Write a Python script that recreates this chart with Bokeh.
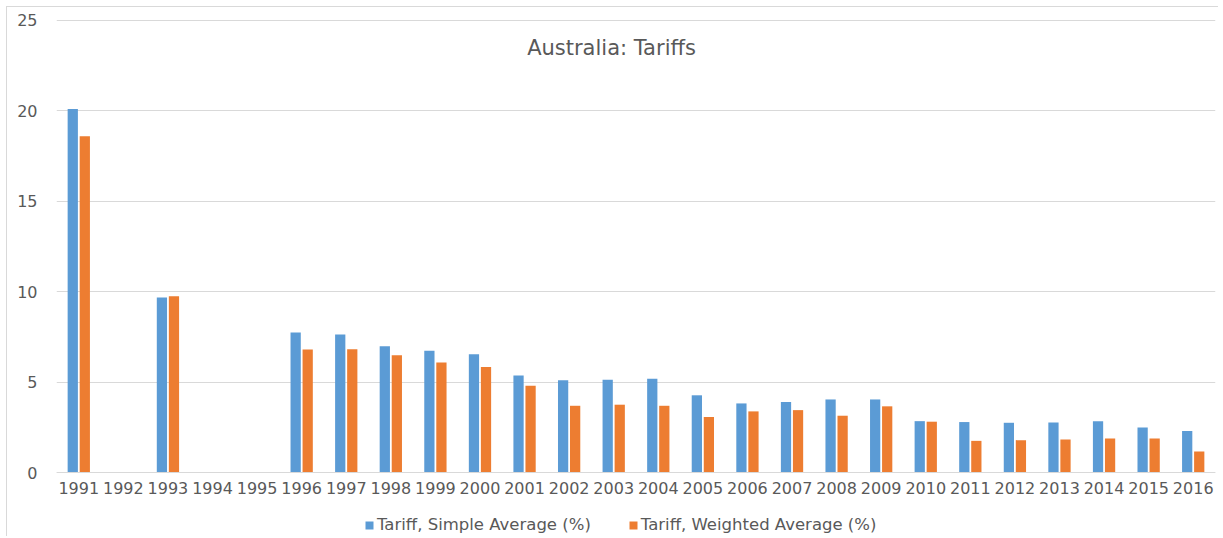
from bokeh.plotting import figure
from bokeh.models import ColumnDataSource, FactorRange, FixedTicker, Legend, LegendItem, Label, Range1d
from bokeh.transform import dodge
from bokeh.embed import file_html
from bokeh.resources import INLINE

NaN = float("nan")

years = [str(y) for y in range(1991, 2017)]
simple_avg = [20.1, NaN, 9.68, NaN, NaN, 7.74, 7.63, 6.98, 6.74, 6.54,
              5.36, 5.10, 5.13, 5.19, 4.27, 3.82, 3.90, 4.04, 4.04, 2.84,
              2.79, 2.75, 2.77, 2.83, 2.49, 2.29]
weighted_avg = [18.6, NaN, 9.75, NaN, NaN, 6.80, 6.81, 6.48, 6.09, 5.83,
                4.80, 3.69, 3.75, 3.69, 3.07, 3.38, 3.45, 3.14, 3.66, 2.81,
                1.75, 1.79, 1.83, 1.88, 1.88, 1.16]
y_ticks = [0, 5, 10, 15, 20, 25]
title_text = "Australia: Tariffs"
series_names = ["Tariff, Simple Average (%)", "Tariff, Weighted Average (%)"]

BLUE = "#5B9BD5"
ORANGE = "#ED7D31"
GREY_TEXT = "#595959"
GRID = "#D9D9D9"
FONT = "DejaVu Sans"

source = ColumnDataSource(data=dict(year=years, simple=simple_avg, weighted=weighted_avg))

p = figure(
    x_range=FactorRange(*years),
    y_range=Range1d(-3.595, 25.11),
    width=1212, height=530,
    output_backend="svg",
    toolbar_location=None,
    min_border_left=49, min_border_right=4, min_border_top=11, min_border_bottom=0,
    margin=(6, 0, 0, 6),
    styles={"border-left": "1px solid #D9D9D9", "border-top": "1px solid #D9D9D9"},
)
p.x_range.range_padding = 0

r1 = p.vbar(x=dodge("year", -0.135, range=p.x_range), top="simple", width=0.23,
            source=source, fill_color=BLUE, line_color=None)
r2 = p.vbar(x=dodge("year", 0.135, range=p.x_range), top="weighted", width=0.23,
            source=source, fill_color=ORANGE, line_color=None)

p.outline_line_color = None
p.xgrid.grid_line_color = None
p.ygrid.grid_line_color = GRID
p.ygrid.grid_line_width = 1
p.yaxis.ticker = FixedTicker(ticks=y_ticks)

p.yaxis.axis_line_color = None
p.yaxis.major_tick_line_color = None
p.yaxis.major_tick_out = 0
p.yaxis.major_tick_in = 0
p.yaxis.minor_tick_line_color = None
p.yaxis.major_label_standoff = 19
p.yaxis.major_label_text_font = FONT
p.yaxis.major_label_text_font_size = "16px"
p.yaxis.major_label_text_color = GREY_TEXT

p.xaxis.fixed_location = 0
p.xaxis.axis_line_color = GRID
p.xaxis.major_tick_line_color = None
p.xaxis.major_tick_out = 0
p.xaxis.major_tick_in = 0
p.xaxis.minor_tick_line_color = None
p.xaxis.major_label_standoff = 9
p.xaxis.major_label_text_font = FONT
p.xaxis.major_label_text_font_size = "16px"
p.xaxis.major_label_text_color = GREY_TEXT

title = Label(x=555, y=490, x_units="screen", y_units="screen", text=title_text,
              text_align="center", text_baseline="middle", text_font=FONT,
              text_font_size="21px", text_color=GREY_TEXT)
p.add_layout(title)

legend = Legend(
    items=[LegendItem(label=series_names[0], renderers=[r1]),
           LegendItem(label=series_names[1], renderers=[r2])],
    orientation="horizontal",
    location=(308, 3),
    padding=2, margin=0, spacing=37,
    glyph_width=10, glyph_height=10, label_standoff=3,
    label_text_font=FONT, label_text_font_size="16.5px", label_text_color=GREY_TEXT,
    border_line_color=None, background_fill_alpha=0,
)
p.add_layout(legend, "center")

open("out.html", "w").write(file_html(p, INLINE))
